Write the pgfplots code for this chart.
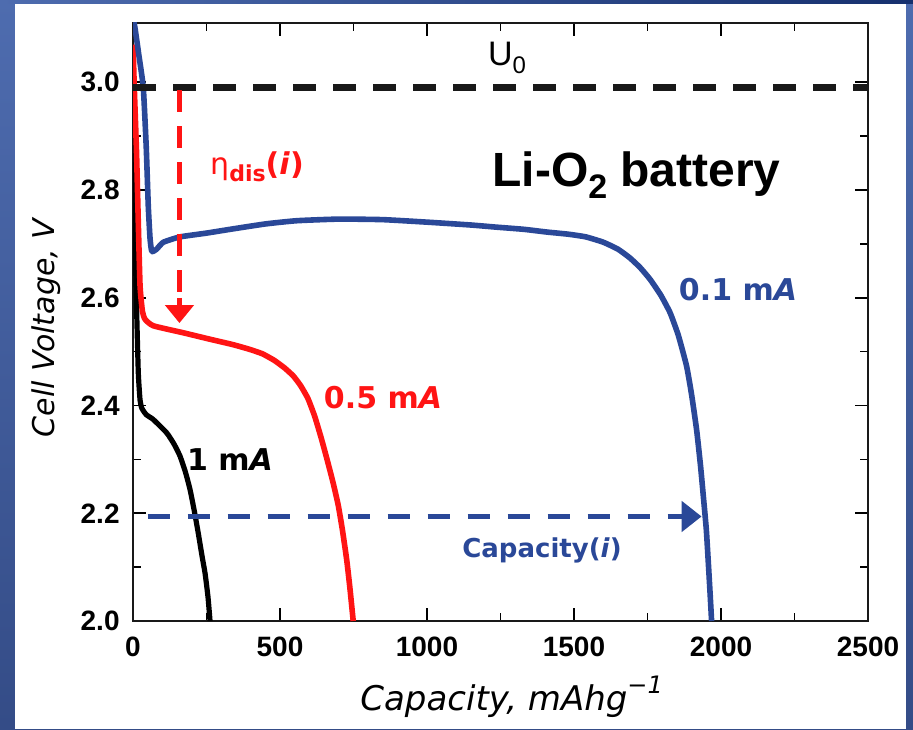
\documentclass[border=0pt]{standalone}
\usepackage{pgfplots}
\pgfplotsset{compat=1.18}
\usetikzlibrary{arrows.meta}
\usepackage{fontspec}
\setmainfont{Liberation Sans}
\newfontfamily\dv{DejaVu Sans}
\definecolor{cblue}{RGB}{42,72,152}
\definecolor{cred}{RGB}{255,20,20}
\definecolor{bgA}{RGB}{78,108,175}
\definecolor{bgB}{RGB}{52,76,135}
\definecolor{bgC}{RGB}{22,48,110}
\begin{document}
\begin{tikzpicture}
\begin{scope}[x=0.5pt,y=0.5pt]
\shade[top color=bgA,bottom color=bgB] (0,0) rectangle (913,729);
\shade[left color=bgA,right color=bgC] (0,725) rectangle (913,729);
\fill[white] (15,0) rectangle (906,725);
\end{scope}
\begin{axis}[
  at={(66.5pt,54pt)}, anchor=south west,
  scale only axis, width=367.5pt, height=299pt,
  xmin=0, xmax=2500, ymin=2.0, ymax=3.11,
  xtick={0,500,1000,1500,2000,2500},
  xticklabels={0,500,1000,1500,2000,2500},
  ytick={2,2.2,2.4,2.6,2.8,3},
  yticklabels={2.0,2.2,2.4,2.6,2.8,3.0},
  minor x tick num=1, minor y tick num=1,
  tick align=inside,
  major tick length=6.5pt, minor tick length=4pt,
  every tick/.style={black, line width=0.8pt},
  axis line style={line width=1.2pt, black!90},
  tick label style={font=\fontsize{14pt}{14pt}\selectfont\bfseries, inner sep=0pt},
  yticklabel style={anchor=east, xshift=-6.5pt},
  xticklabel style={anchor=north, yshift=-8pt},
]
% 1 mA
\addplot[black, line width=2.6pt, line join=round, smooth, tension=0.3] coordinates {
(0,3.0) (3,2.85) (7,2.71) (12,2.585) (18,2.461) (24,2.41) (30,2.395) (45,2.383)
(69,2.374) (115,2.349) (140,2.328) (160,2.306) (178,2.277) (194,2.244) (210,2.20)
(222,2.163) (235,2.12) (245,2.089) (255,2.045) (262,2.0)};
% 0.5 mA
\addplot[cred, line width=2.8pt, line join=round, smooth, tension=0.3] coordinates {
(0,3.07) (5,2.98) (12,2.87) (18,2.74) (24,2.622) (32,2.575) (41,2.56) (69,2.548)
(171,2.535) (262,2.523) (340,2.513) (398,2.504) (440,2.496) (480,2.484) (515,2.47)
(545,2.455) (570,2.437) (595,2.413) (618,2.38) (640,2.34) (660,2.30) (680,2.258)
(698,2.215) (712,2.17) (727,2.113) (738,2.06) (749,2.0)};
% 0.1 mA
\addplot[cblue, line width=2.8pt, line join=round, smooth, tension=0.3] coordinates {
(0,3.12) (7,3.10) (20,3.05) (35,2.99) (45,2.88) (52,2.77) (58,2.71) (64,2.686)
(80,2.69) (103,2.703) (160,2.713) (250,2.72) (330,2.727) (450,2.737) (557,2.743)
(700,2.746) (850,2.745) (1010,2.740) (1150,2.735) (1237,2.731) (1330,2.727) (1407,2.722)
(1480,2.718) (1540,2.713) (1600,2.703) (1650,2.69) (1690,2.674) (1725,2.656) (1759,2.634)
(1795,2.605) (1827,2.572) (1855,2.53) (1883,2.473) (1900,2.42) (1917,2.355)
(1930,2.29) (1940,2.231) (1950,2.17) (1957,2.107) (1963,2.05) (1968,2.0)};
% annotations
\draw[black!90, line width=3.5pt, dash pattern=on 11.5pt off 8.5pt] (axis cs:0,2.99) -- (axis cs:2500,2.99);
\draw[cred, line width=2.5pt, dash pattern=on 11pt off 7pt] (axis cs:158,2.985) -- (axis cs:158,2.60);
\draw[cred, line width=2.5pt, -{Triangle[width=14pt,length=9pt]}] (axis cs:158,2.60) -- (axis cs:158,2.553);
\draw[cblue, line width=2.5pt, dash pattern=on 11pt off 9pt] (axis cs:50,2.194) -- (axis cs:1860,2.194);
\draw[cblue, line width=2.5pt, -{Triangle[width=15pt,length=10pt]}] (axis cs:1860,2.194) -- (axis cs:1934,2.194);
\end{axis}
\begin{scope}[x=0.5pt,y=0.5pt, every node/.style={inner sep=0pt}]
\node[anchor=base west] at (360,19) {\dv\itshape\fontsize{17pt}{17pt}\selectfont Capacity, mAhg\raisebox{0.5em}{\fontsize{12pt}{12pt}\selectfont −1}};
\node[rotate=90] at (46,401) {\dv\itshape\fontsize{15pt}{15pt}\selectfont Cell Voltage, V};
\node[anchor=base west] at (492,542) {\fontsize{24pt}{24pt}\selectfont\bfseries Li-O\raisebox{-0.25em}{\fontsize{17pt}{17pt}\selectfont 2} battery};
\node at (507,671) {\fontsize{17pt}{17pt}\selectfont U\raisebox{-0.25em}{\fontsize{12pt}{12pt}\selectfont 0}};
\node[text=cred] at (257,562) {\dv\fontsize{15pt}{15pt}\selectfont η\raisebox{-0.25em}{\bfseries\fontsize{11pt}{11pt}\selectfont dis}\bfseries(\textit{i})};
\node at (230,269) {\dv\bfseries\fontsize{15pt}{15pt}\selectfont 1 m\textit{A}};
\node[text=cred] at (383,331) {\dv\bfseries\fontsize{15pt}{15pt}\selectfont 0.5 m\textit{A}};
\node[text=cblue] at (738,439) {\dv\bfseries\fontsize{15pt}{15pt}\selectfont 0.1 m\textit{A}};
\node[text=cblue] at (542,179) {\dv\bfseries\fontsize{13pt}{13pt}\selectfont Capacity(\textit{i})};
\end{scope}
\end{tikzpicture}
\end{document}
